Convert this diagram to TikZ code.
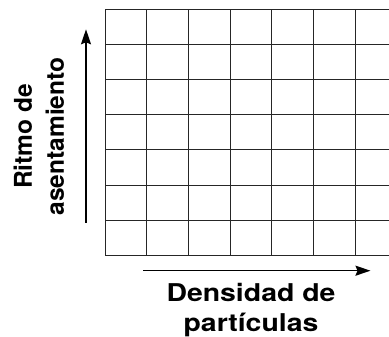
\documentclass[tikz,border=0pt]{standalone}
\usepackage{fontspec}
\setmainfont{TeX Gyre Heros}
\usetikzlibrary{arrows.meta}

\tikzset{
  axisarrow/.style={line width=1.6pt, -{Stealth[length=15pt,width=10pt,inset=2pt]}},
  axislabel/.style={inner sep=0pt, align=center}
}

\begin{document}
\begin{tikzpicture}[x=1pt,y=1pt]
  \useasboundingbox (0,0) rectangle (389,337);
  \begin{scope}[shift={(105,81.7)}]
    \draw[line width=0.9pt, black!85, xstep=41.67pt, ystep=35.14pt] (0,0) grid (284,246.1);
  \end{scope}
  \coordinate (ytail) at (86,114.3);
  \coordinate (yhead) at (86,307.7);
  \coordinate (xtail) at (143.3,66.3);
  \coordinate (xhead) at (370.5,66.3);
  \draw[axisarrow] (ytail) -- (yhead);
  \draw[axisarrow] (xtail) -- (xhead);
  \node[axislabel, rotate=90, anchor=north, font=\fontsize{24.5}{32}\selectfont\bfseries] (ylabel) at (13.3,200.5) {Ritmo de\\asentamiento};
  \node[axislabel, xscale=1.16, transform shape, anchor=north, font=\fontsize{24.5}{30}\selectfont\bfseries] (xlabel) at (251,53.5) {Densidad de\\partículas};
\end{tikzpicture}
\end{document}
